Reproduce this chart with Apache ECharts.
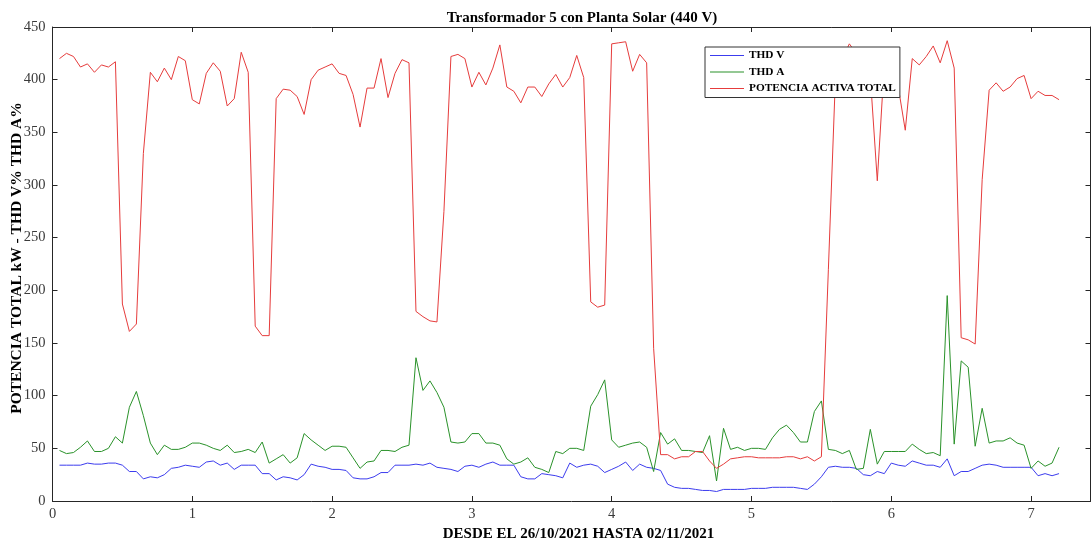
<!DOCTYPE html>
<html>
<head>
<meta charset="utf-8">
<title>Transformador 5 con Planta Solar (440 V)</title>
<script src="https://cdn.jsdelivr.net/npm/echarts@6/dist/echarts.min.js"></script>
<style>
  html, body { margin: 0; padding: 0; background: #ffffff; }
  #chart { width: 1092px; height: 541px; }
</style>
</head>
<body>
<div id="chart"></div>
<script>
// Sample spacing in days (one reading every 1.2 h), first reading at one step
const SAMPLE_STEP = 0.05;

const xTicks = [0, 1, 2, 3, 4, 5, 6, 7];
const yTicks = [0, 50, 100, 150, 200, 250, 300, 350, 400, 450];

const seriesNames = ['THD V', 'THD A', 'POTENCIA ACTIVA TOTAL'];

// THD de tensión (%)
const thdV = [
  34, 34, 34, 34, 36, 35, 35, 36, 36, 34, 28, 28, 21, 23, 22, 25, 31, 32, 34, 33,
  32, 37, 38, 34, 36, 30, 34, 34, 34, 26, 26, 20, 23, 22, 20, 25, 35, 33, 32, 30,
  30, 29, 22, 21, 21, 23, 27, 27, 34, 34, 34, 35, 34, 36, 32, 31, 30, 28, 33, 34,
  32, 35, 37, 34, 34, 34, 23, 21, 21, 26, 25, 24, 22, 36, 32, 34, 35, 33, 27, 30,
  33, 37, 29, 35, 32, 31, 29, 16, 13, 12, 12, 11, 10, 10, 9, 11, 11, 11, 11, 12,
  12, 12, 13, 13, 13, 13, 12, 11, 16, 23, 32, 33, 32, 32, 31, 25, 24, 28, 26, 36,
  34, 33, 38, 36, 34, 34, 32, 40, 24, 28, 28, 31, 34, 35, 34, 32, 32, 32, 32, 32,
  24, 26, 24, 26
];

// THD de corriente (%)
const thdA = [
  48, 45, 46, 51, 57, 47, 47, 50, 61, 55, 89, 104, 81, 55, 44, 53, 49, 49, 51, 55,
  55, 53, 50, 48, 53, 46, 47, 49, 46, 56, 36, 40, 44, 36, 41, 64, 58, 53, 48, 52,
  52, 51, 41, 31, 37, 38, 48, 48, 47, 51, 53, 136, 105, 114, 103, 89, 56, 55, 56, 64,
  64, 55, 55, 53, 40, 35, 37, 41, 32, 30, 27, 47, 45, 50, 50, 48, 90, 101, 115, 58,
  51, 53, 55, 56, 51, 28, 65, 54, 59, 48, 48, 47, 46, 62, 19, 69, 49, 51, 48, 50,
  50, 49, 60, 68, 72, 65, 56, 56, 85, 95, 49, 48, 45, 48, 30, 31, 68, 35, 47, 47,
  47, 47, 54, 49, 45, 46, 43, 195, 54, 133, 127, 52, 88, 55, 57, 57, 60, 55, 53, 31,
  38, 33, 36, 51
];

// Potencia activa total (kW)
const potencia = [
  420, 425, 422, 412, 415, 407, 414, 412, 417, 187, 161, 168, 330, 407, 398, 411, 400, 422, 418, 381,
  377, 406, 416, 408, 375, 382, 426, 407, 166, 157, 157, 382, 391, 390, 384, 367, 400, 409, 412, 415,
  406, 404, 386, 355, 392, 392, 420, 383, 406, 419, 416, 180, 175, 171, 170, 275, 422, 424, 420, 393,
  407, 395, 411, 433, 393, 389, 378, 393, 393, 384, 396, 405, 393, 402, 423, 402, 189, 184, 186, 434,
  435, 436, 408, 424, 416, 145, 44, 44, 40, 42, 42, 47, 47, 38, 31, 35, 40, 41, 42, 42,
  41, 41, 41, 41, 42, 42, 40, 42, 38, 42, 220, 400, 420, 434, 425, 410, 403, 304, 415, 405,
  393, 352, 420, 414, 422, 432, 416, 437, 411, 155, 153, 149, 305, 390, 397, 389, 393, 401, 404, 382,
  389, 385, 385, 381
];

const seriesValues = [thdV, thdA, potencia];
const seriesColors = ['#3c3cee', '#2a922a', '#e63c3c'];

const X_MAX = 7.425;
const FONT = '"Liberation Serif", "Times New Roman", serif';
const AXIS_COLOR = '#262626';

function toPoints(values) {
  return values.map((v, i) => [+(SAMPLE_STEP * (i + 1)).toFixed(2), v]);
}

const chart = echarts.init(document.getElementById('chart'), null, { renderer: 'canvas' });

const tickLabelStyle = {
  fontFamily: FONT,
  fontSize: 14.5,
  color: '#3a3a3a'
};

const boxAxisLine = { show: true, onZero: false, lineStyle: { color: AXIS_COLOR, width: 1 } };
const boxAxisTick = { show: true, inside: true, length: 5, lineStyle: { color: AXIS_COLOR } };

const option = {
  animation: false,
  backgroundColor: '#ffffff',
  title: {
    text: 'Transformador 5 con Planta Solar (440 V)',
    left: 577,
    top: 6,
    textAlign: 'center',
    textStyle: { fontFamily: FONT, fontSize: 15, fontWeight: 'bold', color: '#000000' }
  },
  legend: {
    data: seriesNames,
    orient: 'vertical',
    left: 705,
    top: 47,
    padding: [2, 4, 2.5, 5],
    itemGap: 3.5,
    itemWidth: 34,
    itemHeight: 1,
    icon: 'rect',
    backgroundColor: '#ffffff',
    borderColor: '#333333',
    borderWidth: 1,
    borderRadius: 0,
    textStyle: { fontFamily: FONT, fontSize: 11.3, fontWeight: 'bold', color: '#000000', lineHeight: 13 }
  },
  grid: { left: 52.5, right: 1.5, top: 27, bottom: 40, containLabel: false, outerBoundsMode: 'none' },
  xAxis: [
    {
      type: 'value',
      min: 0,
      max: X_MAX,
      interval: 1,
      name: 'DESDE EL 26/10/2021 HASTA 02/11/2021',
      nameLocation: 'middle',
      nameGap: 26,
      nameMoveOverlap: false,
      nameTextStyle: { fontFamily: FONT, fontSize: 15, fontWeight: 'bold', color: '#000000', padding: [0, 0, 0, 14] },
      axisLine: boxAxisLine,
      axisTick: boxAxisTick,
      axisLabel: {
        ...tickLabelStyle,
        margin: 6,
        formatter: v => (xTicks.indexOf(v) >= 0 ? String(v) : '')
      },
      splitLine: { show: false }
    },
    {
      type: 'value',
      position: 'top',
      min: 0,
      max: X_MAX,
      interval: 1,
      axisLine: boxAxisLine,
      axisTick: boxAxisTick,
      axisLabel: { show: false },
      splitLine: { show: false }
    }
  ],
  yAxis: [
    {
      type: 'value',
      min: yTicks[0],
      max: yTicks[yTicks.length - 1],
      interval: 50,
      name: 'POTENCIA TOTAL kW - THD V% THD A%',
      nameLocation: 'middle',
      nameGap: 28,
      nameMoveOverlap: false,
      nameTextStyle: { fontFamily: FONT, fontSize: 15.5, fontWeight: 'bold', color: '#000000', padding: [0, 0, 0, 12] },
      axisLine: boxAxisLine,
      axisTick: boxAxisTick,
      axisLabel: { ...tickLabelStyle, margin: 7 },
      splitLine: { show: false }
    },
    {
      type: 'value',
      position: 'right',
      min: yTicks[0],
      max: yTicks[yTicks.length - 1],
      interval: 50,
      axisLine: boxAxisLine,
      axisTick: boxAxisTick,
      axisLabel: { show: false },
      splitLine: { show: false }
    }
  ],
  series: seriesNames.map((name, k) => ({
    name: name,
    type: 'line',
    xAxisIndex: 0,
    yAxisIndex: 0,
    data: toPoints(seriesValues[k]),
    symbol: 'none',
    showSymbol: false,
    smooth: false,
    color: seriesColors[k],
    lineStyle: { color: seriesColors[k], width: 1 }
  }))
};

chart.setOption(option);
</script>
</body>
</html>
